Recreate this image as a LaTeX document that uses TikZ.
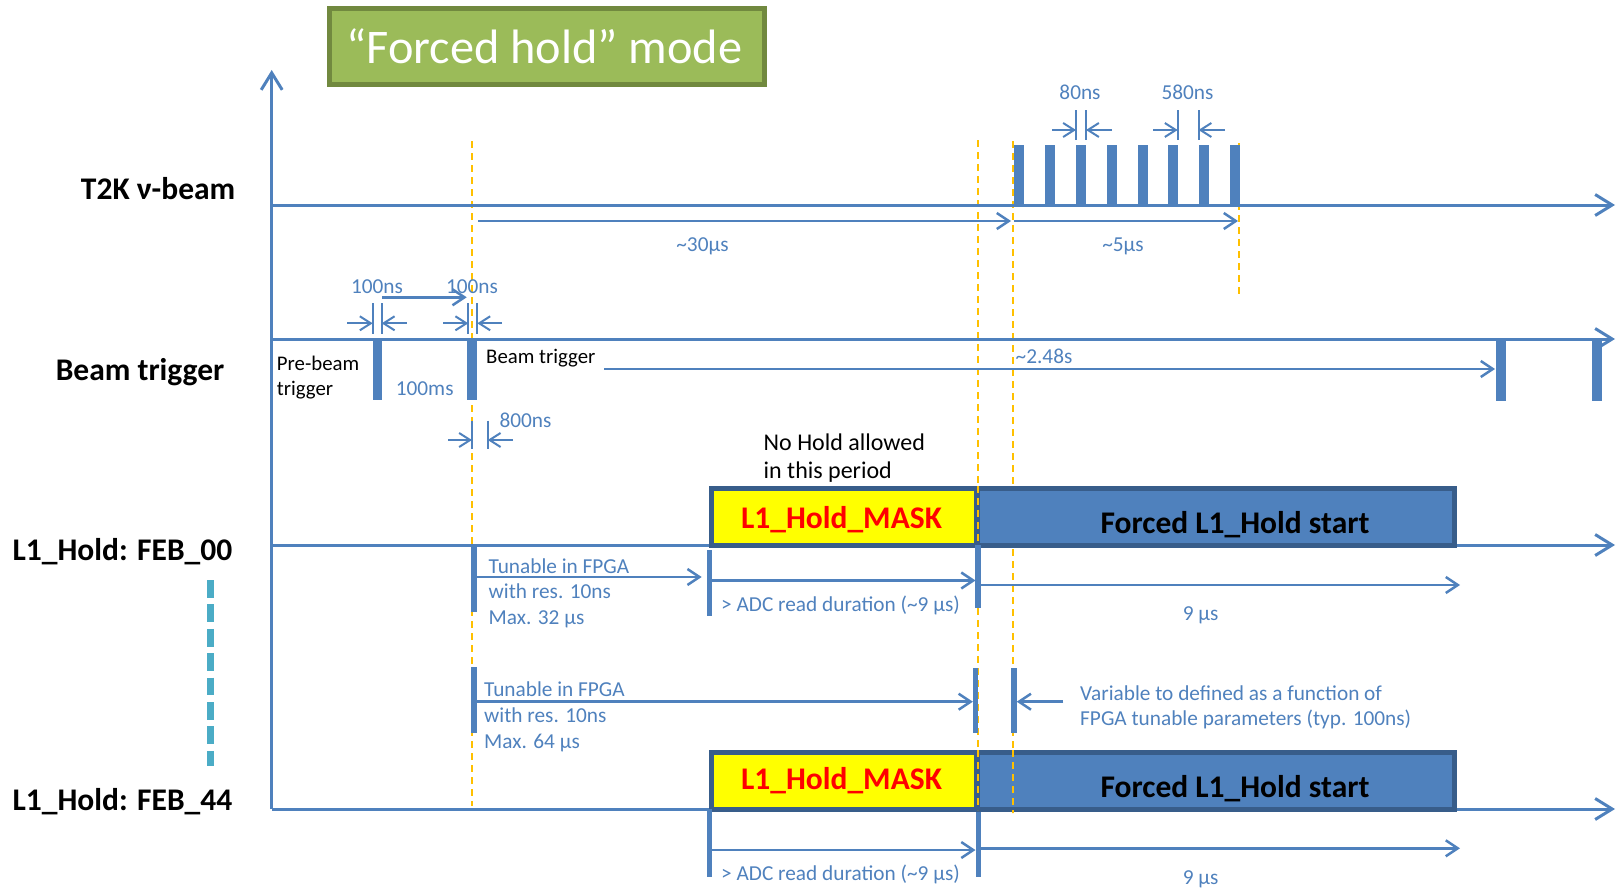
\documentclass[tikz,border=0pt]{standalone}
\usepackage{fontspec}
\setmainfont{Carlito}
\usetikzlibrary{arrows.meta}
\definecolor{tblue}{HTML}{4F81BD}
\definecolor{tnavy}{HTML}{385D8A}
\definecolor{tgreen}{HTML}{9BBB59}
\definecolor{tgreendk}{HTML}{71893F}
\definecolor{torange}{HTML}{FFC000}
\definecolor{tteal}{HTML}{4BACC6}
\definecolor{tyellow}{HTML}{FFFF00}
\definecolor{tred}{HTML}{FF0000}
\begin{document}
\begin{tikzpicture}[x=1pt,y=-1pt,
  axisln/.style={draw=tblue,line width=3pt,-{Straight Barb[length=17pt,width=21pt,line width=3pt]}},
  arr/.style={draw=tblue,line width=2.5pt,-{Straight Barb[length=12pt,width=16pt,line width=2.5pt]}},
  dimarr/.style={draw=tblue,line width=2pt,-{Straight Barb[length=11pt,width=14pt,line width=2pt]}},
  dimtick/.style={draw=tblue,line width=2pt},
  pulse/.style={draw=tblue,line width=10pt},
  tbar/.style={draw=tblue,line width=9.5pt},
  vbar/.style={draw=tblue,line width=5.5pt},
  odash/.style={draw=torange,line width=2pt,dash pattern=on 7pt off 5pt},
  stxt/.style={text=tblue,font=\fontsize{21.3}{26}\selectfont,inner sep=0pt},
  btxt/.style={text=black,font=\fontsize{20.8}{25}\selectfont,inner sep=0pt},
  rowlbl/.style={text=black,font=\fontsize{31.5}{38}\selectfont\bfseries,inner sep=0pt},
  masktxt/.style={text=tred,font=\fontsize{31.5}{38}\selectfont\bfseries,inner sep=0pt},
  forcedtxt/.style={text=black,font=\fontsize{31.5}{38}\selectfont\bfseries,inner sep=0pt},
  maskbox/.style={draw=tnavy,line width=5pt,fill=tyellow,minimum width=265pt,minimum height=57.3pt,inner sep=0pt},
  forcedbox/.style={draw=tnavy,line width=5pt,fill=tblue,minimum width=477.5pt,minimum height=57.3pt,inner sep=0pt},
]
\useasboundingbox (0,0) rectangle (1620,891);

% ---------- title ----------
\node[draw=tgreendk,line width=5pt,fill=tgreen,minimum width=435pt,minimum height=76.3pt,inner sep=0pt] (title) at (546.7,46.7) {};
\node[text=white,font=\fontsize{48.3}{58}\selectfont,inner sep=0pt,anchor=base] (titletxt) at (544.5,63.3) {“Forced hold” mode};

% ---------- orange guide lines ----------
\draw[odash] (472,141) -- (472,806);
\draw[odash] (977.7,140) -- (977.7,810);
\draw[odash] (1013.3,141) -- (1013.3,813);
\draw[odash] (1238.5,143) -- (1238.5,296);

% ---------- axes ----------
\coordinate (origin) at (271.7,809);
\coordinate (ytop) at (271.7,70);
\coordinate (t2ka) at (271.7,205);   \coordinate (t2kb) at (1615,205);
\coordinate (bta) at (271.7,339);    \coordinate (btb) at (1615,339);
\coordinate (f0a) at (271.7,545);    \coordinate (f0b) at (1615,545);
\coordinate (f44b) at (1615,809);
\draw[axisln] (origin) -- (ytop);
\draw[axisln] (t2ka) -- (t2kb);
\draw[axisln] (bta) -- (btb);
\draw[axisln] (f0a) -- (f0b);
\draw[axisln] (origin) -- (f44b);

% ---------- row labels ----------
\node[rowlbl,anchor=base east] (lt2k) at (235.5,199) {T2K ν-beam};
\node[rowlbl,anchor=base east] (lbeam) at (224.5,380) {Beam trigger};
\node[rowlbl,anchor=base east] (lfeb0) at (232.5,560) {L1\_Hold: FEB\_00};
\node[rowlbl,anchor=base east] (lfeb44) at (232.5,810) {L1\_Hold: FEB\_44};
\draw[draw=tteal,line width=7pt,dash pattern=on 17.7pt off 6.7pt] (210,580) -- (210,766);

% ---------- T2K beam ----------
\foreach \x in {1019,1050,1081,1111.7,1143,1173,1204,1234.7}
  \draw[pulse] (\x,206) -- (\x,145);
% 80ns
\draw[dimtick] (1076,110) -- (1076,140);
\draw[dimtick] (1086,110) -- (1086,140);
\coordinate (d80a) at (1052,130); \coordinate (d80ae) at (1076,130);
\coordinate (d80b) at (1112,130); \coordinate (d80be) at (1086,130);
\draw[dimarr] (d80a) -- (d80ae);
\draw[dimarr] (d80b) -- (d80be);
\node[stxt,anchor=base] (l80) at (1080,99.5) {80ns};
% 580ns
\draw[dimtick] (1177.7,110) -- (1177.7,140);
\draw[dimtick] (1198.5,110) -- (1198.5,140);
\coordinate (d580a) at (1153,130); \coordinate (d580ae) at (1177.7,130);
\coordinate (d580b) at (1225,130); \coordinate (d580be) at (1198.5,130);
\draw[dimarr] (d580a) -- (d580ae);
\draw[dimarr] (d580b) -- (d580be);
\node[stxt,anchor=base] (l580) at (1187.5,99.5) {580ns};
% ~30us / ~5us
\coordinate (a30s) at (478,221); \coordinate (a30e) at (1011,221);
\coordinate (a5s) at (1013.5,221); \coordinate (a5e) at (1238,221);
\draw[arr] (a30s) -- (a30e);
\draw[arr] (a5s) -- (a5e);
\node[stxt,anchor=base] (l30) at (702.5,251) {\textasciitilde30µs};
\node[stxt,anchor=base] (l5) at (1123,251.5) {\textasciitilde5µs};

% ---------- Beam trigger ----------
\draw[tbar] (377.3,339) -- (377.3,400);
\draw[tbar] (472,339) -- (472,400);
\draw[tbar] (1501,339) -- (1501,400.5);
\draw[tbar] (1597,339) -- (1597,400.5);
% 100ns left
\draw[dimtick] (372.7,303) -- (372.7,334);
\draw[dimtick] (381.7,303) -- (381.7,334);
\coordinate (n1a) at (347,323.3);  \coordinate (n1ae) at (372.7,323.3);
\coordinate (n1b) at (406.7,323.3); \coordinate (n1be) at (381.7,323.3);
\draw[dimarr] (n1a) -- (n1ae);
\draw[dimarr] (n1b) -- (n1be);
\node[stxt,anchor=base] (l100a) at (377,293.3) {100ns};
% 100ns right
\draw[dimtick] (468.3,303) -- (468.3,334);
\draw[dimtick] (477.3,303) -- (477.3,334);
\coordinate (n2a) at (443,323.3);  \coordinate (n2ae) at (468.3,323.3);
\coordinate (n2b) at (502,323.3);  \coordinate (n2be) at (477.3,323.3);
\draw[dimarr] (n2a) -- (n2ae);
\draw[dimarr] (n2b) -- (n2be);
\node[stxt,anchor=base] (l100b) at (472,293.3) {100ns};
\coordinate (n12s) at (382,297.3); \coordinate (n12e) at (466.7,297.3);
\draw[arr] (n12s) -- (n12e);
% 800ns
\draw[dimtick] (472,420.7) -- (472,449.3);
\draw[dimtick] (487.7,420.7) -- (487.7,449.3);
\coordinate (n8a) at (448,440);  \coordinate (n8ae) at (472,440);
\coordinate (n8b) at (513,440);  \coordinate (n8be) at (487.7,440);
\draw[dimarr] (n8a) -- (n8ae);
\draw[dimarr] (n8b) -- (n8be);
\node[stxt,anchor=base west] (l800) at (499.3,427.3) {800ns};
% texts
\node[btxt,anchor=base west] (lpre1) at (276.7,370) {Pre-beam};
\node[btxt,anchor=base west] (lpre2) at (276.7,395) {trigger};
\node[stxt,anchor=base] (l100ms) at (424.7,395) {100ms};
\node[btxt,anchor=base west] (lbt) at (486,363.3) {Beam trigger};
\coordinate (a248s) at (604,369); \coordinate (a248e) at (1495,369);
\draw[arr] (a248s) -- (a248e);
\node[stxt,anchor=base west] (l248) at (1015.5,363) {\textasciitilde2.48s};

% ---------- FEB_00 ----------
\node[text=black,font=\fontsize{24}{29}\selectfont,inner sep=0pt,anchor=base west] (nohold1) at (763.5,450.5) {No Hold allowed};
\node[text=black,font=\fontsize{24}{29}\selectfont,inner sep=0pt,anchor=base west] (nohold2) at (763.5,478) {in this period};
\node[maskbox] (mask0) at (844.2,517.2) {};
\node[forcedbox] (forced0) at (1215.8,517.2) {};
\draw[odash] (977.7,486) -- (977.7,548);
\node[masktxt,anchor=base] (mask0t) at (841.5,528.5) {L1\_Hold\_MASK};
\node[forcedtxt,anchor=base] (forced0t) at (1235,533) {Forced L1\_Hold start};
\draw[vbar] (474.2,545) -- (474.2,612);
\draw[vbar] (709.7,550) -- (709.7,615.5);
\draw[vbar] (978,545) -- (978,608);
\coordinate (f0a1s) at (474.2,577); \coordinate (f0a1e) at (701.7,577);
\coordinate (f0a2s) at (709.7,580.5); \coordinate (f0a2e) at (975.5,580.5);
\coordinate (f0a3s) at (978,585); \coordinate (f0a3e) at (1460,585);
\draw[arr] (f0a1s) -- (f0a1e);
\draw[arr] (f0a2s) -- (f0a2e);
\draw[arr] (f0a3s) -- (f0a3e);
\node[stxt,anchor=base west] (tun0a) at (488.5,573.3) {Tunable in FPGA};
\node[stxt,anchor=base west] (tun0b) at (488.5,598.8) {with res. 10ns};
\node[stxt,anchor=base west] (tun0c) at (488.5,624.3) {Max. 32 µs};
\node[stxt,anchor=base west] (adc0) at (721,611) {> ADC read duration (\textasciitilde9 µs)};
\node[stxt,anchor=base] (nine0) at (1200.6,620.5) {9 µs};

% ---------- middle ----------
\draw[vbar] (474.2,667.3) -- (474.2,732.5);
\draw[vbar] (975.7,668.3) -- (975.7,733.3);
\draw[vbar] (1013.9,668.3) -- (1013.9,733.3);
\coordinate (m1s) at (474.2,701.7); \coordinate (m1e) at (972.9,701.7);
\coordinate (m2s) at (1063.3,701.7); \coordinate (m2e) at (1016.7,701.7);
\draw[arr] (m1s) -- (m1e);
\draw[arr] (m2s) -- (m2e);
\node[stxt,anchor=base west] (tun44a) at (484,696.7) {Tunable in FPGA};
\node[stxt,anchor=base west] (tun44b) at (484,722.7) {with res. 10ns};
\node[stxt,anchor=base west] (tun44c) at (484,748.3) {Max. 64 µs};
\node[stxt,anchor=base west] (var1) at (1080,700) {Variable to defined as a function of};
\node[stxt,anchor=base west] (var2) at (1080,725) {FPGA tunable parameters (typ. 100ns)};

% ---------- FEB_44 ----------
\node[maskbox] (mask44) at (844.2,781.2) {};
\node[forcedbox] (forced44) at (1215.8,781.2) {};
\draw[odash] (977.7,750) -- (977.7,810);
\draw[odash] (1013.3,750) -- (1013.3,813);
\node[masktxt,anchor=base] (mask44t) at (841.5,789) {L1\_Hold\_MASK};
\node[forcedtxt,anchor=base] (forced44t) at (1235,797) {Forced L1\_Hold start};
\draw[vbar] (709.7,809) -- (709.7,876.5);
\draw[vbar] (978.5,812) -- (978.5,876.7);
\coordinate (f4a2s) at (709.7,850); \coordinate (f4a2e) at (975.5,850);
\coordinate (f4a3s) at (978.5,848.3); \coordinate (f4a3e) at (1460,848.3);
\draw[arr] (f4a2s) -- (f4a2e);
\draw[arr] (f4a3s) -- (f4a3e);
\node[stxt,anchor=base west] (adc44) at (721,880) {> ADC read duration (\textasciitilde9 µs)};
\node[stxt,anchor=base] (nine44) at (1200.6,884) {9 µs};
\end{tikzpicture}
\end{document}
